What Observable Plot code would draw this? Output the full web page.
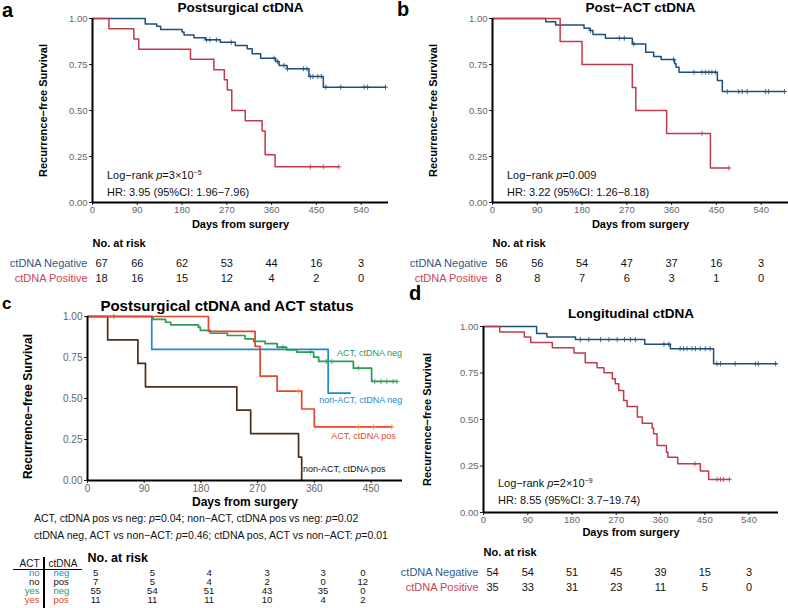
<!DOCTYPE html>
<html><head><meta charset="utf-8">
<script src="https://cdn.jsdelivr.net/npm/d3@7"></script>
<script src="https://cdn.jsdelivr.net/npm/@observablehq/plot@0.6"></script>
<style>
body{margin:0;background:#fff;}
#fig{position:relative;width:788px;height:608px;overflow:hidden;font-family:"Liberation Sans",Arial,sans-serif;color:#000;}
#fig > *{position:absolute;}
.plab{font-weight:bold;font-size:20px;line-height:20px;}
.ann{font-size:11px;line-height:13px;white-space:nowrap;color:#111;}
.sup{font-size:7px;position:relative;top:-4px;}
.pv{font-size:10.5px;line-height:13px;white-space:nowrap;color:#111;}
</style></head>
<body>
<div id="fig"></div>
<script>
const FONT = '"Liberation Sans", Arial, sans-serif';
const xTicks = [0, 90, 180, 270, 360, 450, 540];
const xTicksC = [0, 90, 180, 270, 360, 450];
const yTicks = [0, 0.25, 0.5, 0.75, 1];
const NAVY = "#1f4e7c", CRIMSON = "#c03a4d";
const NAVY_TXT = "#2c5b8a", CRIMSON_TXT = "#c24455";

// ---- Panel a: Postsurgical ctDNA ----
const aNegT = [0, 106, 129, 137, 180, 184, 204, 227, 257, 287, 311, 321, 338, 368, 375, 391, 435, 464, 589];
const aNegS = [1, 0.970, 0.958, 0.940, 0.926, 0.911, 0.895, 0.884, 0.871, 0.853, 0.835, 0.808, 0.784, 0.766, 0.745, 0.727, 0.685, 0.627, 0.627];
const aNegC = [229, 236, 249, 279, 365, 372, 385, 392, 424, 431, 438, 443, 453, 460, 469, 499, 546, 553, 589];
const aPosT = [0, 33, 83, 93, 197, 244, 265, 271, 280, 307, 341, 347, 367, 495];
const aPosS = [1, 0.944, 0.889, 0.833, 0.778, 0.722, 0.667, 0.611, 0.500, 0.444, 0.389, 0.259, 0.194, 0.194];
const aPosC = [438, 464, 495];
const aRiskNeg = [67, 66, 62, 53, 44, 16, 3];
const aRiskPos = [18, 16, 15, 12, 4, 2, 0];

// ---- Panel b: Post-ACT ctDNA ----
const bNegT = [0, 107, 127, 184, 196, 202, 227, 281, 308, 324, 339, 366, 369, 375, 452, 462, 587];
const bNegS = [1, 0.982, 0.964, 0.947, 0.935, 0.913, 0.893, 0.862, 0.817, 0.793, 0.777, 0.754, 0.735, 0.708, 0.663, 0.603, 0.603];
const bNegC = [197, 255, 265, 284, 364, 405, 421, 428, 435, 441, 448, 472, 495, 502, 512, 549, 555, 587];
const bPosT = [0, 136, 180, 281, 288, 350, 438, 475];
const bPosS = [1, 0.875, 0.750, 0.625, 0.500, 0.375, 0.1875, 0.1875];
const bPosC = [421, 475];
const bRiskNeg = [56, 56, 54, 47, 37, 16, 3];
const bRiskPos = [8, 8, 7, 6, 3, 1, 0];

// ---- Panel c: Postsurgical ctDNA and ACT status ----
const cActNegT = [0, 104, 124, 132, 176, 179, 195, 222, 250, 264, 282, 301, 316, 332, 359, 367, 422, 451, 491];
const cActNegS = [1, 0.982, 0.965, 0.949, 0.935, 0.915, 0.898, 0.884, 0.864, 0.848, 0.834, 0.813, 0.797, 0.783, 0.752, 0.726, 0.685, 0.604, 0.604];
const cActNegC = [42, 310, 354, 379, 388, 430, 456, 466, 475, 485, 491];
const cNonNegT = [0, 102, 382, 417];
const cNonNegS = [1, 0.8, 0.533, 0.533];
const cNonNegC = [];
const cActPosT = [0, 192, 266, 274, 301, 340, 360, 483];
const cActPosS = [1, 0.909, 0.818, 0.636, 0.545, 0.436, 0.327, 0.327];
const cActPosC = [335, 430, 454, 483];
const cNonPosT = [0, 32, 80, 92, 237, 259, 335, 340];
const cNonPosS = [1, 0.857, 0.714, 0.571, 0.429, 0.286, 0.143, 0];
const cNonPosC = [];
const cLabels = ["ACT, ctDNA neg", "non-ACT, ctDNA neg", "ACT, ctDNA pos", "non-ACT, ctDNA pos"];
const cLabelT = [396, 368, 387, 342];
const cLabelS = [0.774, 0.488, 0.268, 0.067];
const cRiskTimes = [13, 103, 193, 285, 374, 437];
const cRiskAct = ["no", "no", "yes", "yes"];
const cRiskDna = ["neg", "pos", "neg", "pos"];
const cRiskVals = [[5, 5, 4, 3, 3, 0], [7, 5, 4, 2, 0, 12], [55, 54, 51, 43, 35, 0], [11, 11, 11, 10, 4, 2]];
const C_GREEN = "#2e9a52", C_BLUE = "#1e88d2", C_RED = "#e0472d", C_BROWN = "#4a2e1c";

// ---- Panel d: Longitudinal ctDNA ----
const dNegT = [0, 108, 129, 187, 328, 380, 468, 596];
const dNegS = [1, 0.963, 0.944, 0.930, 0.905, 0.881, 0.800, 0.800];
const dNegC = [197, 214, 238, 255, 272, 287, 299, 309, 367, 377, 400, 407, 414, 424, 431, 441, 451, 461, 475, 482, 512, 553, 559, 594];
const dPosT = [0, 33, 83, 96, 140, 184, 207, 231, 245, 262, 268, 275, 285, 292, 313, 323, 343, 346, 353, 372, 375, 395, 441, 458, 500];
const dPosS = [1, 0.971, 0.943, 0.914, 0.886, 0.857, 0.805, 0.778, 0.751, 0.719, 0.692, 0.656, 0.602, 0.570, 0.513, 0.480, 0.453, 0.423, 0.360, 0.324, 0.297, 0.262, 0.223, 0.178, 0.178];
const dPosC = [430, 475, 482, 488, 500];
const dRiskNeg = [54, 54, 51, 45, 39, 15, 3];
const dRiskPos = [35, 33, 31, 23, 11, 5, 0];

function stepAt(T, S, t) { let v = S[0]; for (let i = 0; i < T.length; i++) if (T[i] <= t) v = S[i]; return v; }

function kmPanel(o) {
  const marks = [];
  for (const c of o.curves) {
    const rows = c.T.map((t, i) => ({t, s: c.S[i]}));
    marks.push(Plot.line(rows, {x: "t", y: "s", curve: "step-after", stroke: c.color, strokeWidth: o.lw || 1.5}));
    const cens = c.C.map(t => ({t, s: stepAt(c.T, c.S, t)}));
    marks.push(Plot.dot(cens, {x: "t", y: "s", symbol: "plus", r: 1.8, stroke: c.cColor || c.color, strokeWidth: 0.8}));
  }
  marks.push(
    Plot.axisY({ticks: yTicks, tickFormat: d3.format(".2f"), tickSize: 3, tickPadding: 2, fontSize: o.tickFs, stroke: "#222", fill: "#666", label: null}),
    Plot.axisX({ticks: o.xticks, tickSize: 3, tickPadding: 1, fontSize: o.tickFs, stroke: "#222", fill: "#666", label: null}),
    Plot.ruleX([0], {stroke: "#000", strokeWidth: 2}),
    Plot.ruleY([0], {stroke: "#000", strokeWidth: 2}),
    Plot.text([o.title], {text: d => d, frameAnchor: "top", lineAnchor: "middle", textAnchor: "middle", dx: o.titleDx || 0, dy: o.titleDy, fontWeight: "bold", fontSize: o.titleFs, fill: "#000"}),
    Plot.text(["Days from surgery"], {text: d => d, frameAnchor: "bottom", lineAnchor: "middle", textAnchor: "middle", dy: o.xlabDy, fontWeight: "bold", fontSize: o.xlabFs, fill: "#000"}),
    Plot.text(["Recurrence\u2212free Survival"], {text: d => d, frameAnchor: "left", textAnchor: "middle", lineAnchor: "middle", rotate: -90, dx: o.ylabDx, dy: o.ylabDy || 0, fontWeight: "bold", fontSize: o.ylabFs, fill: "#000"})
  );
  if (o.labels) {
    marks.push(Plot.text(o.labels, {x: "t", y: "s", text: "label", fill: "color", textAnchor: "start", fontSize: 9}));
  }
  return Plot.plot({
    width: o.width, height: o.height,
    marginLeft: o.mL, marginRight: o.mR, marginTop: o.mT, marginBottom: o.mB,
    x: {domain: o.domain}, y: {domain: [0, 1]},
    color: {type: "identity"},
    style: {fontFamily: FONT, background: "transparent", overflow: "visible"},
    marks
  });
}

function riskPanel(o) {
  const data = o.rows.flatMap(r => r.values.map((n, i) => ({t: o.times[i], n, key: r.key, i})));
  const marks = [];
  if (o.firstDx != null) {
    marks.push(Plot.text(data.filter(d => d.i === 0), {x: "t", y: "key", text: "n", textAnchor: "start", dx: o.firstDx, fontSize: o.fs, fill: "#111"}));
    marks.push(Plot.text(data.filter(d => d.i > 0), {x: "t", y: "key", text: "n", fontSize: o.fs, fill: "#111"}));
  } else {
    marks.push(Plot.text(data, {x: "t", y: "key", text: "n", fontSize: o.fs, fill: "#111"}));
  }
  marks.push(Plot.text([o.header], {text: d => d, frameAnchor: "top-left", lineAnchor: "middle", dy: o.headerY, textAnchor: "start", fontWeight: "bold", fontSize: o.headerFs, fill: "#000"}));
  if (o.rowLabels) {
    marks.push(Plot.text(o.rows, {y: "key", text: "key", frameAnchor: "left", textAnchor: "end", dx: -5, fill: "color", fontSize: o.fs}));
  }
  if (o.extra) marks.push(...o.extra);
  return Plot.plot({
    width: o.width, height: o.height,
    marginLeft: o.mL, marginRight: o.mR, marginTop: 0, marginBottom: 0,
    x: {domain: o.domain, axis: null},
    y: {type: "point", domain: o.rows.map(r => r.key), range: o.yRange, padding: 0, axis: null},
    color: {type: "identity"},
    style: {fontFamily: FONT, background: "transparent", overflow: "visible"},
    marks
  });
}

const fig = document.getElementById("fig");
function place(el, left, top) { el.style.position = "absolute"; el.style.left = left + "px"; el.style.top = top + "px"; fig.appendChild(el); }
function html(s, cls, left, top, extra) { const d = document.createElement("div"); d.className = cls; d.innerHTML = s; if (extra) d.style.cssText = extra; place(d, left, top); return d; }

// Panel a
place(kmPanel({
  curves: [{T: aNegT, S: aNegS, C: aNegC, color: NAVY}, {T: aPosT, S: aPosS, C: aPosC, color: CRIMSON}],
  domain: [0, 595], xticks: xTicks, width: 400, height: 232, mL: 92, mR: 12, mT: 18, mB: 30,
  title: "Postsurgical ctDNA", titleFs: 13.5, titleDy: -10.5, xlabDy: 22, xlabFs: 11, ylabDx: -49, ylabFs: 11, tickFs: 9.5
}), 0, 0);
place(riskPanel({
  rows: [{key: "ctDNA Negative", values: aRiskNeg, color: NAVY_TXT}, {key: "ctDNA Positive", values: aRiskPos, color: CRIMSON_TXT}],
  times: xTicks, domain: [0, 595], width: 400, height: 56, mL: 92, mR: 12, yRange: [31, 46],
  fs: 11, firstDx: 3, header: "No. at risk", headerY: 11, headerFs: 11, rowLabels: true
}), 0, 232);

// Panel b
place(kmPanel({
  curves: [{T: bNegT, S: bNegS, C: bNegC, color: NAVY}, {T: bPosT, S: bPosS, C: bPosC, color: CRIMSON}],
  domain: [0, 595], xticks: xTicks, width: 388, height: 232, mL: 92, mR: 0, mT: 18, mB: 30,
  title: "Post\u2212ACT ctDNA", titleFs: 13.5, titleDy: -10.5, xlabDy: 22, xlabFs: 11, ylabDx: -59, ylabFs: 11, tickFs: 9.5
}), 400, 0);
place(riskPanel({
  rows: [{key: "ctDNA Negative", values: bRiskNeg, color: NAVY_TXT}, {key: "ctDNA Positive", values: bRiskPos, color: CRIMSON_TXT}],
  times: xTicks, domain: [0, 595], width: 388, height: 56, mL: 92, mR: 0, yRange: [31, 46],
  fs: 11, firstDx: 3, header: "No. at risk", headerY: 11, headerFs: 11, rowLabels: true
}), 400, 232);

// Panel c
const cLabelColors = [C_GREEN, C_BLUE, C_RED, "#111"];
place(kmPanel({
  curves: [
    {T: cNonPosT, S: cNonPosS, C: cNonPosC, color: C_BROWN},
    {T: cNonNegT, S: cNonNegS, C: cNonNegC, color: C_BLUE},
    {T: cActNegT, S: cActNegS, C: cActNegC, color: C_GREEN},
    {T: cActPosT, S: cActPosS, C: cActPosC, color: C_RED, cColor: "#f08a2a"}
  ],
  labels: cLabels.map((label, i) => ({label, t: cLabelT[i], s: cLabelS[i], color: cLabelColors[i]})),
  domain: [0, 500], xticks: xTicksC, width: 410, height: 210, mL: 87, mR: 8, mT: 16, mB: 30, lw: 1.7,
  title: "Postsurgical ctDNA and ACT status", titleFs: 15, titleDy: -10, titleDx: -18, xlabDy: 22, xlabFs: 12, ylabDx: -59, ylabDy: 8, ylabFs: 12, tickFs: 10
}), 0, 300);
const cRows = cRiskVals.map((values, i) => ({key: cRiskAct[i] + "-" + cRiskDna[i], act: cRiskAct[i], dna: cRiskDna[i], values, color: [C_BLUE, "#111", C_GREEN, C_RED][i]}));
place(riskPanel({
  rows: cRows, times: cRiskTimes, domain: [0, 500], width: 410, height: 60, mL: 87, mR: 8, yRange: [24, 51],
  fs: 9.5, header: "No. at risk", headerY: 9, headerFs: 12.5, rowLabels: false,
  extra: [
    Plot.text(cRows, {y: "key", text: "act", frameAnchor: "left", textAnchor: "end", dx: -48, fill: "color", fontSize: 9.5}),
    Plot.text(cRows, {y: "key", text: "dna", frameAnchor: "left", textAnchor: "start", dx: -34, fill: "color", fontSize: 9.5}),
    Plot.text(["ACT"], {text: d => d, frameAnchor: "top-left", lineAnchor: "middle", textAnchor: "end", dx: -48, dy: 15, fontSize: 10, fill: "#111"}),
    Plot.text(["ctDNA"], {text: d => d, frameAnchor: "top-left", lineAnchor: "middle", textAnchor: "start", dx: -39, dy: 15, fontSize: 10, fill: "#111"})
  ]
}), 0, 548);
html("", "", 13, 569, "width:69px;height:1px;background:#000");
html("", "", 43, 557, "width:2px;height:51px;background:#000");

// Panel d
place(kmPanel({
  curves: [{T: dNegT, S: dNegS, C: dNegC, color: NAVY}, {T: dPosT, S: dPosS, C: dPosC, color: CRIMSON}],
  domain: [0, 600], xticks: xTicks, width: 388, height: 240, mL: 83, mR: 10, mT: 26, mB: 28,
  title: "Longitudinal ctDNA", titleFs: 13.5, titleDy: -13, xlabDy: 20, xlabFs: 11, ylabDx: -56, ylabFs: 11, tickFs: 9.5
}), 400, 300);
place(riskPanel({
  rows: [{key: "ctDNA Negative", values: dRiskNeg, color: NAVY_TXT}, {key: "ctDNA Positive", values: dRiskPos, color: CRIMSON_TXT}],
  times: xTicks, domain: [0, 600], width: 388, height: 60, mL: 83, mR: 10, yRange: [32, 47],
  fs: 11, firstDx: 3, header: "No. at risk", headerY: 12, headerFs: 11, rowLabels: true
}), 400, 540);

// Annotations
html('Log\u2212rank <i>p</i>=3\u00d710<span class="sup">\u22125</span>', "ann", 107, 169);
html('HR: 3.95 (95%CI: 1.96\u22127.96)', "ann", 107, 186);
html('Log\u2212rank <i>p</i>=0.009', "ann", 507, 169);
html('HR: 3.22 (95%CI: 1.26\u22128.18)', "ann", 507, 186);
html('Log\u2212rank <i>p</i>=2\u00d710<span class="sup">\u22129</span>', "ann", 498, 477);
html('HR: 8.55 (95%CI: 3.7\u221219.74)', "ann", 498, 494);
html('ACT, ctDNA pos vs neg: <i>p</i>=0.04; non\u2212ACT, ctDNA pos vs neg: <i>p</i>=0.02', "pv", 34, 512);
html('ctDNA neg, ACT vs non\u2212ACT: <i>p</i>=0.46; ctDNA pos, ACT vs non\u2212ACT: <i>p</i>=0.01', "pv", 34, 529);

// Panel letters
html("a", "plab", 2, 0);
html("b", "plab", 397, -1);
html("c", "plab", 2, 294, "font-size:17px");
html("d", "plab", 409, 283);
</script>
</body></html>
